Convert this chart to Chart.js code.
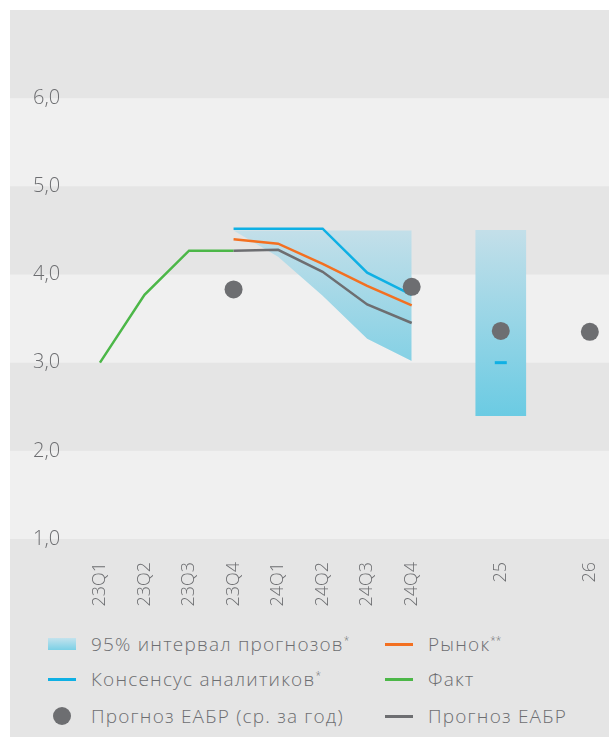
<!DOCTYPE html>
<html>
<head>
<meta charset="utf-8">
<script src="https://cdn.jsdelivr.net/npm/chart.js@4/dist/chart.umd.min.js"></script>
<style>
  html, body { margin: 0; padding: 0; background: #fff; }
  body { width: 609px; height: 737px; position: relative; overflow: hidden; font-family: "Open Sans", sans-serif; }
  #panel { position: absolute; left: 10px; top: 10px; width: 599px; height: 727px; background: #e5e5e5; }
  #chart { position: absolute; left: 0; top: 0; }
  #legend { position: absolute; left: 38px; top: 616px; display: grid; grid-template-columns: 337px 200px; grid-template-rows: 36px 34px 40px; }
  .item { display: flex; align-items: center; color: #6d6e71; font-size: 19px; font-weight: 300; letter-spacing: 1.2px; white-space: nowrap; }
  .item sup { font-size: 10px; vertical-align: 7px; line-height: 0; letter-spacing: 0; }
  .mark { width: 28px; margin-right: 15px; display: flex; justify-content: center; align-items: center; }
</style>
</head>
<body>
<div id="panel">
  <canvas id="chart" width="599" height="600"></canvas>
  <div id="legend"></div>
</div>
<script>
const categories = ['23Q1', '23Q2', '23Q3', '23Q4', '24Q1', '24Q2', '24Q3', '24Q4', '', '25', '', '26'];
const fact = [3.0, 3.77, 4.27, 4.27, null, null, null, null, null, null, null, null];
const eabrForecast = [null, null, null, 4.27, 4.28, 4.03, 3.66, 3.45, null, null, null, null];
const market = [null, null, null, 4.40, 4.35, 4.12, 3.87, 3.65, null, null, null, null];
const consensus = [null, null, null, 4.52, 4.52, 4.52, 4.02, 3.77, null, 3.0, null, null];
const rangeHigh = [null, null, null, 4.5, 4.5, 4.5, 4.5, 4.5, null, 4.5, null, null];
const rangeLow = [null, null, null, 4.5, 4.2, 3.76, 3.27, 3.02, null, 2.4, null, null];
const eabrAnnual = [null, null, null, 3.83, null, null, null, 3.86, null, 3.36, null, 3.35];

const yTicks = [1, 2, 3, 4, 5, 6, 7];

const BLUE = '#0fb0e4';
const ORANGE = '#f37021';
const GREEN = '#4cb748';
const GRAY = '#6d6e71';

const toPoints = (arr) => arr.map((y, x) => ({ x, y }));
const isQuarter = (i) => categories[i].includes('Q');
const quarterPoints = (arr) => toPoints(arr).filter((p) => p.y !== null && isQuarter(p.x));
const yearRanges = categories
    .map((c, i) => ({ x: i, y: [rangeLow[i], rangeHigh[i]] }))
    .filter((p) => !isQuarter(p.x) && rangeLow[p.x] !== null);

const topRange = Math.max(...rangeHigh.filter((v) => v !== null));
const bottomRange = Math.min(...rangeLow.filter((v) => v !== null));

const rangeGradient = (context) => {
    const { chart } = context;
    const { ctx, chartArea, scales } = chart;
    if (!chartArea) return null;
    const g = ctx.createLinearGradient(0, scales.y.getPixelForValue(topRange), 0, scales.y.getPixelForValue(bottomRange));
    g.addColorStop(0, '#c3dfe9');
    g.addColorStop(1, '#6bcbe3');
    return g;
};

const bands = {
    id: 'bands',
    beforeDraw(chart) {
        const { ctx, chartArea, scales } = chart;
        ctx.save();
        ctx.fillStyle = '#f0f0f0';
        yTicks.filter((v) => v % 2 === 1 && v < 7).forEach((v) => {
            const top = scales.y.getPixelForValue(v + 1);
            const bottom = scales.y.getPixelForValue(v);
            ctx.fillRect(chartArea.left, top, chartArea.right - chartArea.left, bottom - top);
        });
        ctx.restore();
    }
};

const lineSet = (label, arr, color) => ({
    label,
    data: toPoints(arr),
    borderColor: color,
    backgroundColor: color,
    borderWidth: 2.5,
    pointRadius: 0,
    spanGaps: false,
    tension: 0,
    fill: false
});

const consensusSet = lineSet('Консенсус аналитиков', consensus, BLUE);
consensusSet.pointStyle = 'line';
consensusSet.pointRadius = (ctx) => (ctx.raw && !isQuarter(ctx.raw.x) ? 6 : 0);
consensusSet.pointBorderWidth = 3;

new Chart(document.getElementById('chart'), {
    type: 'line',
    data: {
        datasets: [
            {
                label: 'Прогноз ЕАБР (ср. за год)',
                data: toPoints(eabrAnnual).filter((p) => p.y !== null),
                showLine: false,
                pointRadius: 9,
                pointBorderWidth: 0,
                pointBackgroundColor: GRAY,
                pointBorderColor: GRAY
            },
            consensusSet,
            lineSet('Рынок', market, ORANGE),
            lineSet('Прогноз ЕАБР', eabrForecast, GRAY),
            lineSet('Факт', fact, GREEN),
            {
                label: 'high',
                data: quarterPoints(rangeHigh),
                borderWidth: 0,
                pointRadius: 0,
                fill: false
            },
            {
                label: '95% интервал прогнозов',
                data: quarterPoints(rangeLow),
                borderWidth: 0,
                pointRadius: 0,
                fill: '-1',
                backgroundColor: rangeGradient
            },
            {
                type: 'bar',
                label: '95% интервал прогнозов (год)',
                data: yearRanges,
                barThickness: 50,
                backgroundColor: rangeGradient,
                borderWidth: 0
            }
        ]
    },
    options: {
        responsive: false,
        animation: false,
        layout: { padding: 0, autoPadding: false },
        plugins: {
            legend: { display: false },
            tooltip: { enabled: false }
        },
        scales: {
            x: {
                type: 'linear',
                min: -2.02,
                max: 11.43,
                offset: false,
                grid: { display: false, drawTicks: false },
                border: { display: false },
                afterBuildTicks: (scale) => {
                    scale.ticks = categories.map((c, i) => ({ value: i })).filter((t) => categories[t.value] !== '');
                },
                afterFit: (scale) => {
                    scale.height = 71;
                    scale.paddingLeft = 0;
                    scale.paddingRight = 0;
                },
                ticks: {
                    autoSkip: false,
                    minRotation: 90,
                    maxRotation: 90,
                    padding: 23,
                    color: GRAY,
                    font: { family: 'Open Sans', size: 18, weight: 300 },
                    callback: (v) => categories[v]
                }
            },
            y: {
                min: 1,
                max: 7,
                grid: { display: false, drawTicks: false },
                border: { display: false },
                afterBuildTicks: (scale) => { scale.ticks = yTicks.map((v) => ({ value: v })); },
                afterFit: (scale) => {
                    scale.width = 0;
                    scale.paddingTop = 0;
                    scale.paddingBottom = 0;
                },
                ticks: {
                    mirror: true,
                    padding: 23,
                    color: GRAY,
                    font: { family: 'Open Sans', size: 20, weight: 300 },
                    callback: (v) => (v === 7 ? '' : v.toFixed(1).replace('.', ','))
                }
            }
        }
    },
    plugins: [bands]
});

const legendItems = [
    { text: '95% интервал прогнозов', sup: '*', mark: 'range' },
    { text: 'Рынок', sup: '**', mark: 'line', color: ORANGE },
    { text: 'Консенсус аналитиков', sup: '*', mark: 'line', color: BLUE },
    { text: 'Факт', sup: '', mark: 'line', color: GREEN },
    { text: 'Прогноз ЕАБР (ср. за год)', sup: '', mark: 'dot', color: GRAY },
    { text: 'Прогноз ЕАБР', sup: '', mark: 'line', color: GRAY }
];

const markHtml = (it) => {
    if (it.mark === 'range') return '<div style="width:28px;height:12px;background:linear-gradient(#c3e2ed,#7bd0e6)"></div>';
    if (it.mark === 'dot') return `<div style="width:18px;height:18px;border-radius:50%;background:${it.color}"></div>`;
    return `<div style="width:28px;height:3px;background:${it.color}"></div>`;
};

document.getElementById('legend').innerHTML = legendItems.map((it) =>
    `<div class="item"><div class="mark">${markHtml(it)}</div><span>${it.text}${it.sup ? '<sup>' + it.sup + '</sup>' : ''}</span></div>`
).join('');
</script>
</body>
</html>
